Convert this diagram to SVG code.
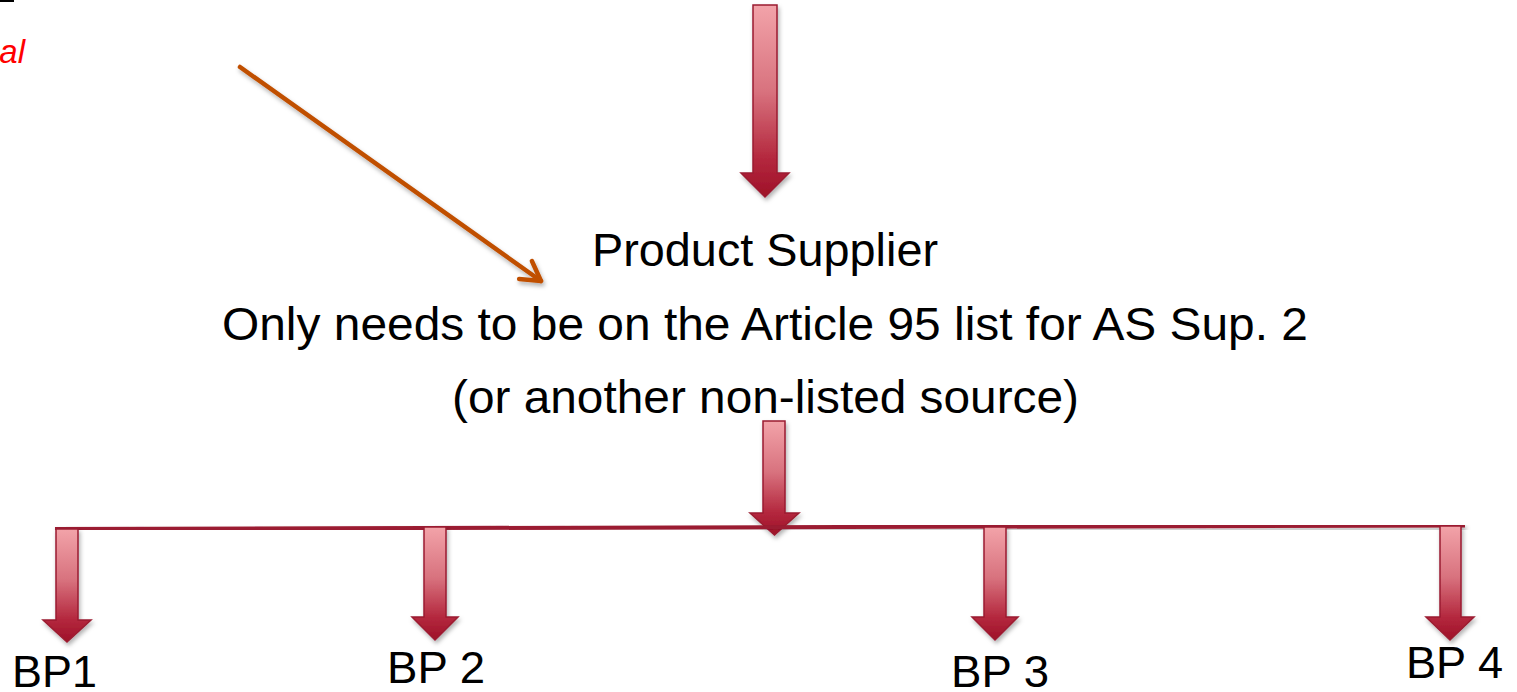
<svg xmlns="http://www.w3.org/2000/svg" width="1517" height="692" viewBox="0 0 1517 692">
<style>
.t{font-family:"Liberation Sans",Arial,sans-serif;fill:#000;}
.main{font-size:46px;}
.bp{font-size:45px;}
.arr{fill:url(#ag);stroke:#9B1B30;stroke-width:1.5;stroke-linejoin:miter;filter:url(#sh);}
.bar{stroke:#9B1B30;stroke-width:4;fill:none;filter:url(#sh);}
.orange{stroke:#C05000;stroke-width:4.5;fill:none;stroke-linecap:round;filter:url(#sh);}
</style>
<defs>
<linearGradient id="ag" x1="0" y1="0" x2="0" y2="1">
<stop offset="0" stop-color="#F2A3A9"/>
<stop offset="0.45" stop-color="#D8727E"/>
<stop offset="0.8" stop-color="#B4283E"/>
<stop offset="1" stop-color="#9E1128"/>
</linearGradient>
<filter id="sh" x="-30%" y="-10%" width="160%" height="130%">
<feDropShadow dx="1.5" dy="3" stdDeviation="2" flood-color="#000" flood-opacity="0.3"/>
</filter>
<marker id="oh" viewBox="-24 -14 28 28" refX="0" refY="0" markerWidth="28" markerHeight="28" markerUnits="userSpaceOnUse" orient="auto">
<path d="M-19,-11 L0,0 L-19,11" fill="none" stroke="#C05000" stroke-width="4.5" stroke-linecap="round" stroke-linejoin="round"/>
</marker>
</defs>
<rect width="1517" height="692" fill="#fff"/>

<g id="corner">
<rect x="0" y="0" width="14" height="2" fill="#000"/>
<text x="25" y="63" text-anchor="end" style="font-family:'Liberation Sans',Arial,sans-serif;font-size:33px;font-style:italic;fill:#FF0000;">al</text>
</g>

<g id="connectors">
<path id="top-arrow" class="arr" d="M753,5 H777 V173 H789 L765,197 L741,173 H753 Z"/>
<path id="orange-arrow" class="orange" d="M240,67 L541,281" marker-end="url(#oh)"/>
<path id="mid-arrow" class="arr" d="M763,421 H785 V513 H799 L774.5,535 L750,513 H763 Z"/>
<path id="bus" class="bar" d="M55,529 L1465,525.5"/>
<path id="arrow-bp1" class="arr" d="M56,529 H78 V620 H91 L67,642 L43,620 H56 Z"/>
<path id="arrow-bp2" class="arr" d="M424,527 H446 V617 H458 L435,640 L412,617 H424 Z"/>
<path id="arrow-bp3" class="arr" d="M984,527 H1006 V617 H1018 L995,640 L972,617 H984 Z"/>
<path id="arrow-bp4" class="arr" d="M1440,526 H1461 V617 H1474 L1450,640 L1426,617 H1440 Z"/>
</g>

<g id="product-supplier">
<text class="t main" x="592" y="266" textLength="346" lengthAdjust="spacingAndGlyphs">Product Supplier</text>
<text class="t main" x="222" y="340" textLength="1086" lengthAdjust="spacingAndGlyphs">Only needs to be on the Article 95 list for AS Sup. 2</text>
<text class="t main" x="452" y="413" textLength="627" lengthAdjust="spacingAndGlyphs">(or another non-listed source)</text>
</g>

<g id="bp1"><text class="t bp" x="12" y="687" textLength="85" lengthAdjust="spacingAndGlyphs">BP1</text></g>
<g id="bp2"><text class="t bp" x="387" y="683" textLength="98" lengthAdjust="spacingAndGlyphs">BP 2</text></g>
<g id="bp3"><text class="t bp" x="951" y="687" textLength="98" lengthAdjust="spacingAndGlyphs">BP 3</text></g>
<g id="bp4"><text class="t bp" x="1406" y="678" textLength="97" lengthAdjust="spacingAndGlyphs">BP 4</text></g>
</svg>
